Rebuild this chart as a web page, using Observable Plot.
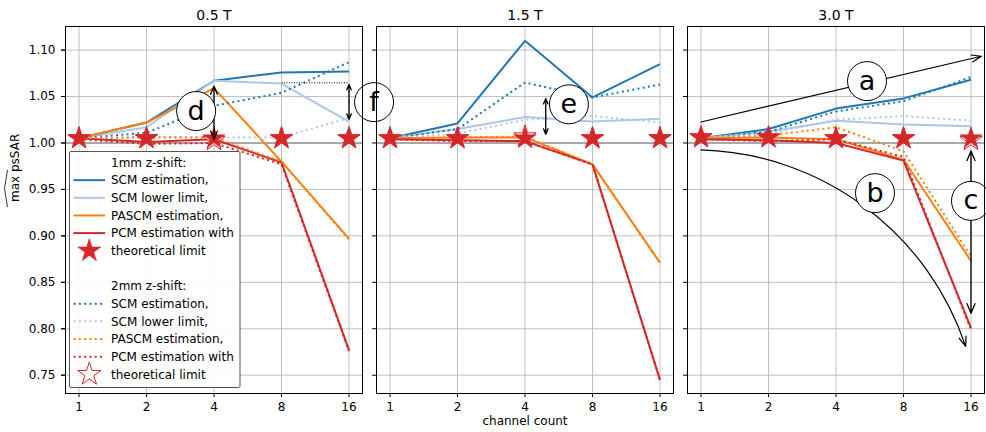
<!DOCTYPE html>
<html><head><meta charset="utf-8">
<script src="https://cdn.jsdelivr.net/npm/d3@7"></script>
<script src="https://cdn.jsdelivr.net/npm/@observablehq/plot@0.6"></script>
<style>
body{margin:0;background:#fff;font-family:"DejaVu Sans",sans-serif}
#chart{width:986px;height:432px}
</style>
</head><body><div id="chart"></div>
<script>
// ---------- data ----------
const fields = ["0.5 T", "1.5 T", "3.0 T"];
const channels = [1, 2, 4, 8, 16];
const yTicks = [0.75, 0.80, 0.85, 0.90, 0.95, 1.00, 1.05, 1.10];

// 1mm z-shift (rows: 0.5 T, 1.5 T, 3.0 T; cols: 1,2,4,8,16 channels)
const scmEst1mm  = [[1.005, 1.022, 1.067, 1.076, 1.077], [1.005, 1.021, 1.110, 1.049, 1.085], [1.005, 1.015, 1.037, 1.048, 1.068]];
const scmLow1mm  = [[1.005, 1.017, 1.067, 1.064, 1.023], [1.005, 1.015, 1.028, 1.023, 1.026], [1.005, 1.012, 1.024, 1.020, 1.018]];
const pascm1mm   = [[1.005, 1.022, 1.059, 0.980, 0.897], [1.005, 1.006, 1.006, 0.977, 0.871], [1.005, 1.006, 1.004, 0.982, 0.873]];
const pcm1mm     = [[1.005, 1.001, 1.004, 0.979, 0.777], [1.004, 1.003, 1.002, 0.977, 0.745], [1.004, 1.003, 1.000, 0.981, 0.801]];
const limit1mm   = [[1.005, 1.005, 1.005, 1.005, 1.005], [1.005, 1.005, 1.005, 1.005, 1.005], [1.006, 1.006, 1.005, 1.005, 1.005]];
// 2mm z-shift
const scmEst2mm  = [[1.005, 1.011, 1.040, 1.054, 1.087], [1.005, 1.015, 1.065, 1.049, 1.063], [1.005, 1.012, 1.034, 1.045, 1.071]];
const scmLow2mm  = [[1.005, 1.007, 1.006, 1.006, 1.027], [1.005, 1.010, 1.025, 1.029, 1.022], [1.005, 1.010, 1.025, 1.029, 1.024]];
const pascm2mm   = [[1.005, 1.006, 1.006, 0.980, 0.896], [1.005, 1.006, 1.007, 0.977, 0.871], [1.005, 1.008, 1.017, 0.991, 0.878]];
const pcm2mm     = [[1.004, 0.999, 1.000, 0.977, 0.776], [1.004, 1.002, 1.002, 0.977, 0.745], [1.004, 1.002, 1.004, 0.985, 0.799]];
const limit2mm   = [[1.005, 1.005, 1.003, 1.005, 1.005], [1.005, 1.005, 1.007, 1.005, 1.005], [1.006, 1.006, 1.005, 1.005, 1.003]];

const seriesNames = ["SCM estimation,", "SCM lower limit,", "PASCM estimation,", "PCM estimation with"];
const seriesColors = ["#1f77b4", "#aec7e8", "#ff7f0e", "#d62728"];
const starColor = "#d62728";
const groupTitles = ["1mm z-shift:", "2mm z-shift:"];
const limitLabel = "theoretical limit";

// annotations (data coordinates)
const refLine05 = [{field: "0.5 T", x: 8, y: 1.0648}, {field: "0.5 T", x: 16, y: 1.0648}];
const arrowsSingle = [
  {field: "3.0 T", x1: 1, y1: 1.0226, x2: 17.8, y2: 1.0934, bend: 0},
  {field: "3.0 T", x1: 1, y1: 0.9925, x2: 15.15, y2: 0.781, bend: 35}
];
const arrowsDouble = [
  {field: "0.5 T", x: 4, top: 1.0612, bottom: 1.004},
  {field: "0.5 T", x: 16, top: 1.063, bottom: 1.0255},
  {field: "1.5 T", x: 4.95, top: 1.048, bottom: 1.0093},
  {field: "3.0 T", x: 16, top: 0.9914, bottom: 0.8167}
];
const circleLabels = [
  {field: "3.0 T", x: 5.5, y: 1.0666, label: "a"},
  {field: "3.0 T", x: 5.97, y: 0.946, label: "b"},
  {field: "3.0 T", x: 16, y: 0.9377, label: "c"},
  {field: "0.5 T", x: 3.33, y: 1.0344, label: "d"},
  {field: "1.5 T", x: 6.28, y: 1.0416, label: "e"},
  {field: "0.5 T", x: 20.7, y: 1.044, label: "f"}
];

// ---------- helpers ----------
const toRows = (arr) => fields.flatMap((f, i) => channels.map((c, j) => ({field: f, ch: c, v: arr[i][j]})));
const series1 = [scmEst1mm, scmLow1mm, pascm1mm, pcm1mm];
const series2 = [scmEst2mm, scmLow2mm, pascm2mm, pcm2mm];
const dotted = "2,3.3";

const halfArrows = arrowsDouble.flatMap(d => {
  const mid = (d.top + d.bottom) / 2;
  return [
    {field: d.field, x1: d.x, y1: mid, x2: d.x, y2: d.top},
    {field: d.field, x1: d.x, y1: mid, x2: d.x, y2: d.bottom}
  ];
});

const marks = [
  Plot.gridX({ticks: channels, stroke: "#b0b0b0", strokeOpacity: 1, strokeWidth: 0.8}),
  Plot.gridY({ticks: yTicks, stroke: "#b0b0b0", strokeOpacity: 1, strokeWidth: 0.8}),
  Plot.ruleY([1], {stroke: "#a8a8a8", strokeWidth: 2}),
  ...series1.map((s, i) => Plot.line(toRows(s), {fx: "field", x: "ch", y: "v", stroke: seriesColors[i], strokeWidth: 2, strokeLinecap: "butt"})),
  ...series2.map((s, i) => Plot.line(toRows(s), {fx: "field", x: "ch", y: "v", stroke: seriesColors[i], strokeWidth: 2, strokeDasharray: dotted, strokeLinecap: "butt"})),
  Plot.dot(toRows(limit2mm), {fx: "field", x: "ch", y: "v", symbol: "star", r: 7, fill: "white", stroke: starColor, strokeWidth: 1}),
  Plot.dot(toRows(limit1mm), {fx: "field", x: "ch", y: "v", symbol: "star", r: 7, fill: starColor, stroke: starColor, strokeWidth: 0.5}),
  Plot.line(refLine05, {fx: "field", x: "x", y: "y", stroke: "black", strokeWidth: 1, strokeDasharray: "1,1.5", strokeLinecap: "butt"}),
  Plot.arrow(arrowsSingle.filter(d => d.bend === 0), {fx: "field", x1: "x1", y1: "y1", x2: "x2", y2: "y2", stroke: "black", strokeWidth: 1.2, headLength: 13, headAngle: 40}),
  Plot.arrow(arrowsSingle.filter(d => d.bend !== 0), {fx: "field", x1: "x1", y1: "y1", x2: "x2", y2: "y2", bend: 35, stroke: "black", strokeWidth: 1.2, headLength: 13, headAngle: 40}),
  Plot.arrow(halfArrows, {fx: "field", x1: "x1", y1: "y1", x2: "x2", y2: "y2", stroke: "black", strokeWidth: 1.3, headLength: 12, headAngle: 45}),
  Plot.dot(circleLabels, {fx: "field", x: "x", y: "y", r: 19.5, fill: "white", stroke: "black", strokeWidth: 1}),
  Plot.text(circleLabels, {fx: "field", x: "x", y: "y", text: "label", fontSize: 27, fill: "black"}),
  Plot.frame({stroke: "black", strokeWidth: 1}),
  Plot.axisY({ticks: yTicks, tickFormat: ".2f", tickSize: 4, tickPadding: 6, label: null, fontSize: 12}),
  Plot.axisY({ticks: yTicks, tickFormat: () => "", tickSize: 4, label: null, facetAnchor: null}),
  Plot.axisX({ticks: channels, tickFormat: d => String(d), tickSize: 4, tickPadding: 5, label: null, fontSize: 12}),
  Plot.axisFx({anchor: "top", tickSize: 0, tickPadding: 7, label: null, fontSize: 14}),
  Plot.text(["channel count"], {fx: ["1.5 T"], frameAnchor: "bottom", dy: 31, fontSize: 12}),
  Plot.text(["max psSAR"], {fx: ["0.5 T"], frameAnchor: "left", rotate: -90, dx: -50, dy: -8, fontSize: 12})
];

const chart = Plot.plot({
  width: 986, height: 432,
  marginLeft: 64, marginRight: 0, marginTop: 26, marginBottom: 39,
  style: {fontFamily: "DejaVu Sans", fontSize: "12px", color: "black", background: "white", overflow: "visible"},
  fx: {domain: fields, paddingInner: 0.04487, paddingOuter: 0, label: null},
  x: {type: "log", base: 2, domain: [2 ** -0.2, 2 ** 4.2], label: null},
  y: {domain: [0.7303, 1.1254], label: null},
  marks
});
document.getElementById("chart").appendChild(chart);

// ---------- hat over psSAR + legend (overlay inside the SVG) ----------
const svg = d3.select(chart);
svg.append("path").attr("d", "M7.5,207 L4.5,188.5 L7.5,170").attr("fill", "none").attr("stroke", "black").attr("stroke-width", 0.8);

const legend = svg.append("g").attr("font-family", "DejaVu Sans").attr("font-size", 12).attr("text-anchor", "start");
legend.append("rect").attr("x", 69.5).attr("y", 151.5).attr("width", 170.5).attr("height", 236)
  .attr("fill", "white").attr("fill-opacity", 0.9).attr("stroke", "#555").attr("stroke-width", 1).attr("rx", 1.5);
const rowY = i => 162.5 + i * 17.65;
const legendRows = [];
groupTitles.forEach((title, g) => {
  const base = g * 7;
  legendRows.push({i: base, kind: "title", text: title});
  seriesNames.forEach((name, k) => legendRows.push({i: base + 1 + k, kind: "line", text: name, color: seriesColors[k], dash: g === 1 ? dotted : null}));
  legendRows.push({i: base + 5, kind: "star", text: limitLabel, filled: g === 0});
});
legendRows.forEach(r => {
  const y = rowY(r.i);
  if (r.kind === "line") {
    const ln = legend.append("line").attr("x1", 73.5).attr("x2", 105).attr("y1", y).attr("y2", y)
      .attr("stroke", r.color).attr("stroke-width", 2).attr("stroke-linecap", "butt");
    if (r.dash) ln.attr("stroke-dasharray", r.dash);
  } else if (r.kind === "star") {
    legend.append("path").attr("d", d3.symbol(d3.symbolStar, Math.PI * 7.3 * 7.3)())
      .attr("transform", `translate(89.3,${y})`)
      .attr("fill", r.filled ? starColor : "white").attr("stroke", starColor).attr("stroke-width", r.filled ? 0.5 : 1);
  }
  legend.append("text").attr("x", 111).attr("y", y).attr("dy", "0.35em").attr("fill", "black").text(r.text);
});
</script>
</body></html>
